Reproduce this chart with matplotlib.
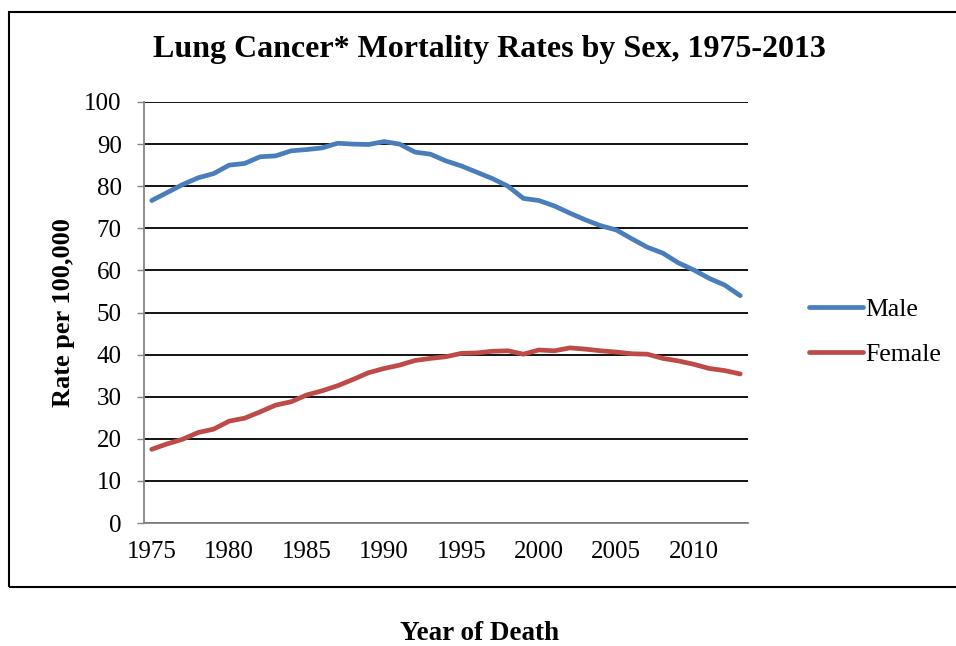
import numpy as np
import matplotlib.pyplot as plt
from matplotlib.patches import Rectangle

# -----------------------------
# Data
# -----------------------------
years = list(range(1975, 2014))
male = [76.6, 78.5, 80.4, 82.0, 83.0, 85.0, 85.4, 87.0, 87.2, 88.4,
        88.7, 89.1, 90.2, 90.0, 89.9, 90.6, 90.0, 88.1, 87.6, 86.0,
        84.8, 83.3, 81.8, 80.0, 77.1, 76.6, 75.3, 73.6, 72.0, 70.6,
        69.6, 67.5, 65.5, 64.1, 61.8, 60.1, 58.1, 56.5, 54.0]
female = [17.5, 18.8, 19.9, 21.5, 22.3, 24.2, 24.9, 26.4, 28.0, 28.8,
          30.4, 31.4, 32.6, 34.1, 35.7, 36.7, 37.5, 38.6, 39.1, 39.5,
          40.3, 40.4, 40.8, 40.9, 40.1, 41.1, 40.9, 41.6, 41.3, 40.9,
          40.6, 40.2, 40.1, 39.1, 38.5, 37.7, 36.7, 36.2, 35.4]
x_ticks = [1975, 1980, 1985, 1990, 1995, 2000, 2005, 2010]
y_ticks = list(range(0, 101, 10))

W, H = 956, 646
plt.rcParams["font.family"] = ["Liberation Serif", "DejaVu Serif"]

fig = plt.figure(figsize=(W / 100, H / 100), dpi=100)
ax = fig.add_axes([144 / W, 1 - 523 / H, (748 - 144) / W, (523 - 102) / H])

ax.plot(years, male, color="#4A7EBB", linewidth=3.4, label="Male",
        solid_capstyle="round", solid_joinstyle="round", zorder=3)
ax.plot(years, female, color="#BE4B48", linewidth=3.4, label="Female",
        solid_capstyle="round", solid_joinstyle="round", zorder=3)

# Axes styling (Excel-like category axis)
ax.set_xlim(1974.5, 2013.5)
ax.set_ylim(0, 100)
ax.set_xticks(x_ticks)
ax.set_yticks(y_ticks)
ax.tick_params(axis="x", length=0, labelsize=18, pad=13)
ax.tick_params(axis="y", length=5, width=1, color="#868686", labelsize=18, pad=11)
ax.yaxis.grid(True, color="black", linewidth=1.3, zorder=1)
ax.set_axisbelow(True)
for side in ("top", "right"):
    ax.spines[side].set_visible(False)
for side in ("left", "bottom"):
    ax.spines[side].set_color("#868686")
    ax.spines[side].set_linewidth(1.3)

ax.set_ylabel("Rate per 100,000", fontsize=19, fontweight="bold", labelpad=7)

fig.text(489 / W, 1 - 50 / H, "Lung Cancer* Mortality Rates by Sex, 1975-2013",
         ha="center", va="center", fontsize=23, fontweight="bold")
fig.text(480 / W, 1 - 633 / H, "Year of Death",
         ha="center", va="center", fontsize=19.5, fontweight="bold")

fig.legend(loc="center left", bbox_to_anchor=(786 / W, 1 - 332 / H),
           frameon=False, fontsize=18.5, handlelength=2.1, handletextpad=0.1,
           labelspacing=0.85)

# Outer chart border
fig.patches.append(Rectangle((8.5 / W, 1 - 587 / H), (W + 10) / W, (587 - 12) / H,
                             transform=fig.transFigure, fill=False,
                             edgecolor="black", linewidth=1.5))

fig.savefig("out.png", dpi=100)
